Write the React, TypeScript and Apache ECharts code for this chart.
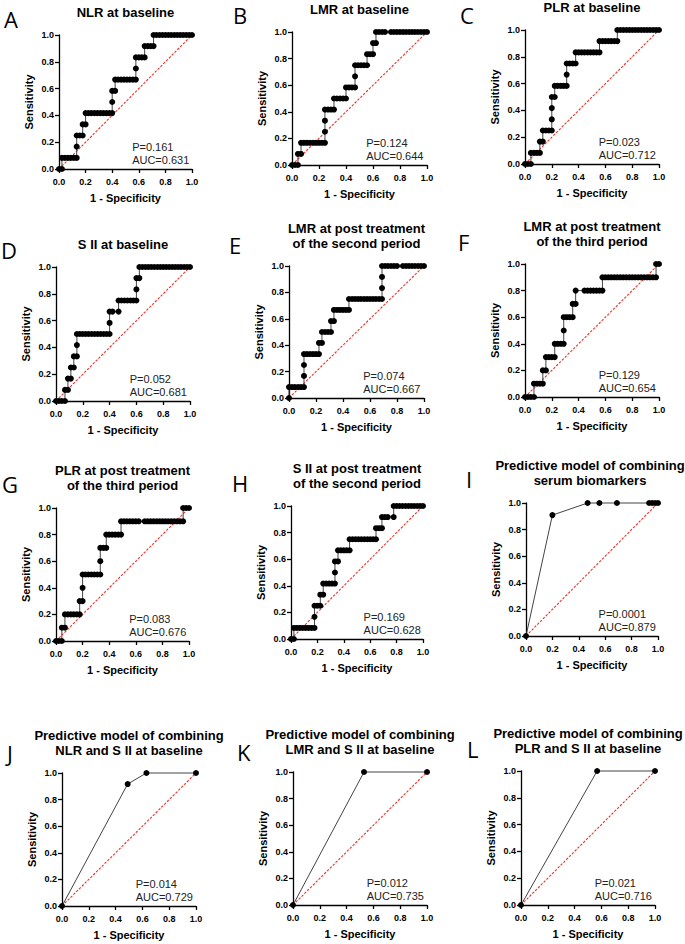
import React, { useEffect, useRef } from "react";
import * as echarts from "echarts";

const panelLetters = ["A", "B", "C", "D", "E", "F", "G", "H", "I", "J", "K", "L"];
const panelTitles = [
  "NLR at baseline",
  "LMR at baseline",
  "PLR at baseline",
  "S II at baseline",
  "LMR at post treatment\nof the second period",
  "LMR at post treatment\nof the third period",
  "PLR at post treatment\nof the third period",
  "S II at post treatment\nof the second period",
  "Predictive model of combining\nserum biomarkers",
  "Predictive model of combining\nNLR and S II at baseline",
  "Predictive model of combining\nLMR and S II at baseline",
  "Predictive model of combining\nPLR and S II at baseline",
];
const pTexts = ["P=0.161", "P=0.124", "P=0.023", "P=0.052", "P=0.074", "P=0.129", "P=0.083", "P=0.169", "P=0.0001", "P=0.014", "P=0.012", "P=0.021"];
const aucTexts = ["AUC=0.631", "AUC=0.644", "AUC=0.712", "AUC=0.681", "AUC=0.667", "AUC=0.654", "AUC=0.676", "AUC=0.628", "AUC=0.879", "AUC=0.729", "AUC=0.735", "AUC=0.716"];
const xTickLabels = ["0.0", "0.2", "0.4", "0.6", "0.8", "1.0"];
const referenceLine = [[0, 0], [1, 1]];

// ROC points [1 - specificity, sensitivity]
const rocA = [
  [0,0],[0.022,0],
  [0.022,0.083],[0.044,0.083],[0.067,0.083],[0.089,0.083],[0.111,0.083],[0.133,0.083],
  [0.133,0.167],[0.133,0.25],[0.156,0.25],[0.178,0.25],
  [0.178,0.333],[0.2,0.333],
  [0.2,0.417],[0.222,0.417],[0.244,0.417],[0.267,0.417],[0.289,0.417],[0.311,0.417],[0.333,0.417],[0.356,0.417],[0.378,0.417],[0.4,0.417],
  [0.4,0.5],[0.4,0.583],[0.422,0.583],
  [0.422,0.667],[0.444,0.667],[0.467,0.667],[0.489,0.667],[0.511,0.667],[0.533,0.667],[0.556,0.667],[0.578,0.667],
  [0.578,0.75],[0.578,0.833],[0.6,0.833],[0.622,0.833],[0.644,0.833],
  [0.644,0.917],[0.667,0.917],[0.689,0.917],[0.711,0.917],
  [0.711,1],[0.733,1],[0.756,1],[0.778,1],[0.8,1],[0.822,1],[0.844,1],[0.867,1],[0.889,1],[0.911,1],[0.933,1],[0.956,1],[0.978,1],[1,1],
];
const rocB = [
  [0,0],[0.022,0],[0.044,0],
  [0.044,0.083],[0.067,0.083],
  [0.067,0.167],[0.089,0.167],[0.111,0.167],[0.133,0.167],[0.156,0.167],[0.178,0.167],[0.2,0.167],[0.222,0.167],[0.244,0.167],
  [0.244,0.25],[0.244,0.333],[0.244,0.417],[0.267,0.417],[0.289,0.417],[0.311,0.417],
  [0.311,0.5],[0.333,0.5],[0.356,0.5],[0.378,0.5],[0.4,0.5],
  [0.4,0.583],[0.422,0.583],[0.444,0.583],[0.467,0.583],
  [0.467,0.667],[0.467,0.75],[0.489,0.75],[0.511,0.75],[0.533,0.75],[0.556,0.75],
  [0.556,0.833],[0.578,0.833],[0.6,0.833],
  [0.6,0.917],[0.622,0.917],
  [0.622,1],[0.644,1],[0.667,1],[0.689,1],[0.733,1],[0.756,1],[0.778,1],[0.8,1],[0.822,1],[0.844,1],[0.867,1],[0.889,1],[0.911,1],[0.933,1],[0.956,1],[0.978,1],[1,1],
];
const rocC = [
  [0,0],[0.022,0],[0.044,0],
  [0.044,0.083],[0.067,0.083],[0.089,0.083],[0.111,0.083],
  [0.111,0.167],[0.133,0.167],
  [0.133,0.25],[0.156,0.25],[0.178,0.25],[0.2,0.25],
  [0.2,0.333],[0.2,0.417],[0.2,0.5],[0.222,0.5],
  [0.222,0.583],[0.244,0.583],[0.267,0.583],[0.289,0.583],[0.311,0.583],
  [0.311,0.667],[0.311,0.75],[0.333,0.75],[0.356,0.75],[0.378,0.75],
  [0.378,0.833],[0.4,0.833],[0.422,0.833],[0.444,0.833],[0.467,0.833],[0.489,0.833],[0.511,0.833],[0.533,0.833],[0.556,0.833],
  [0.556,0.917],[0.578,0.917],[0.6,0.917],[0.622,0.917],[0.644,0.917],[0.667,0.917],[0.689,0.917],
  [0.689,1],[0.711,1],[0.733,1],[0.756,1],[0.778,1],[0.8,1],[0.822,1],[0.844,1],[0.867,1],[0.889,1],[0.911,1],[0.933,1],[0.956,1],[0.978,1],[1,1],
];
const rocD = [
  [0,0],[0.022,0],[0.044,0],[0.067,0],
  [0.067,0.083],[0.089,0.083],
  [0.089,0.167],[0.111,0.167],
  [0.111,0.25],[0.133,0.25],
  [0.133,0.333],[0.156,0.333],
  [0.156,0.417],[0.156,0.5],[0.178,0.5],[0.2,0.5],[0.222,0.5],[0.244,0.5],[0.267,0.5],[0.289,0.5],[0.311,0.5],[0.333,0.5],[0.356,0.5],[0.378,0.5],[0.4,0.5],
  [0.4,0.583],[0.4,0.667],[0.422,0.667],[0.467,0.667],
  [0.467,0.75],[0.489,0.75],[0.511,0.75],[0.533,0.75],[0.556,0.75],[0.578,0.75],[0.6,0.75],
  [0.6,0.833],[0.6,0.917],[0.622,0.917],
  [0.622,1],[0.644,1],[0.667,1],[0.689,1],[0.711,1],[0.733,1],[0.756,1],[0.778,1],[0.8,1],[0.822,1],[0.844,1],[0.867,1],[0.889,1],[0.911,1],[0.933,1],[0.956,1],[0.978,1],[1,1],
];
const rocE = [
  [0,0],
  [0,0.083],[0.022,0.083],[0.044,0.083],[0.067,0.083],[0.089,0.083],[0.111,0.083],
  [0.111,0.167],[0.111,0.25],[0.111,0.333],[0.133,0.333],[0.156,0.333],[0.178,0.333],[0.2,0.333],[0.222,0.333],
  [0.222,0.417],[0.244,0.417],
  [0.244,0.5],[0.267,0.5],[0.289,0.5],[0.311,0.5],
  [0.311,0.583],[0.333,0.583],
  [0.333,0.667],[0.356,0.667],[0.378,0.667],[0.4,0.667],[0.422,0.667],[0.444,0.667],
  [0.444,0.75],[0.467,0.75],[0.489,0.75],[0.511,0.75],[0.533,0.75],[0.556,0.75],[0.578,0.75],[0.6,0.75],[0.622,0.75],[0.644,0.75],[0.667,0.75],[0.689,0.75],
  [0.689,0.833],[0.689,0.917],[0.689,1],[0.711,1],[0.733,1],[0.756,1],[0.778,1],[0.8,1],[0.844,1],[0.867,1],[0.889,1],[0.911,1],[0.933,1],[0.956,1],[0.978,1],[1,1],
];
const rocF = [
  [0,0],[0.022,0],[0.044,0],[0.067,0],
  [0.067,0.1],[0.089,0.1],[0.111,0.1],[0.133,0.1],
  [0.133,0.2],[0.156,0.2],
  [0.156,0.3],[0.178,0.3],[0.2,0.3],[0.222,0.3],
  [0.222,0.4],[0.244,0.4],[0.267,0.4],[0.289,0.4],
  [0.289,0.5],[0.289,0.6],[0.311,0.6],[0.333,0.6],[0.356,0.6],
  [0.356,0.7],[0.378,0.7],
  [0.378,0.8],[0.444,0.8],[0.467,0.8],[0.489,0.8],[0.511,0.8],[0.533,0.8],[0.556,0.8],[0.578,0.8],
  [0.578,0.9],[0.6,0.9],[0.622,0.9],[0.644,0.9],[0.667,0.9],[0.689,0.9],[0.711,0.9],[0.733,0.9],[0.756,0.9],[0.778,0.9],[0.8,0.9],[0.822,0.9],[0.844,0.9],[0.867,0.9],[0.889,0.9],[0.911,0.9],[0.933,0.9],[0.956,0.9],[0.978,0.9],
  [0.978,1],[1,1],
];
const rocG = [
  [0,0],[0.022,0],[0.044,0],
  [0.044,0.1],[0.067,0.1],
  [0.067,0.2],[0.089,0.2],[0.111,0.2],[0.133,0.2],[0.156,0.2],[0.178,0.2],
  [0.178,0.3],[0.2,0.3],
  [0.2,0.4],[0.2,0.5],[0.222,0.5],[0.244,0.5],[0.267,0.5],[0.289,0.5],[0.311,0.5],[0.333,0.5],
  [0.333,0.6],[0.333,0.7],[0.356,0.7],[0.378,0.7],
  [0.378,0.8],[0.4,0.8],[0.422,0.8],[0.444,0.8],[0.467,0.8],[0.489,0.8],
  [0.489,0.9],[0.511,0.9],[0.533,0.9],[0.556,0.9],[0.578,0.9],[0.6,0.9],[0.622,0.9],[0.667,0.9],[0.689,0.9],[0.711,0.9],[0.733,0.9],[0.756,0.9],[0.778,0.9],[0.8,0.9],[0.822,0.9],[0.844,0.9],[0.867,0.9],[0.889,0.9],[0.911,0.9],[0.933,0.9],[0.956,0.9],
  [0.956,1],[0.978,1],[1,1],
];
const rocH = [
  [0,0],[0.022,0],
  [0.022,0.083],[0.044,0.083],[0.067,0.083],[0.089,0.083],[0.111,0.083],[0.133,0.083],[0.156,0.083],[0.178,0.083],
  [0.178,0.167],[0.178,0.25],[0.2,0.25],[0.222,0.25],
  [0.222,0.333],[0.244,0.333],
  [0.244,0.417],[0.267,0.417],[0.289,0.417],[0.311,0.417],[0.333,0.417],
  [0.333,0.5],[0.333,0.583],[0.356,0.583],
  [0.356,0.667],[0.378,0.667],[0.4,0.667],[0.422,0.667],[0.444,0.667],
  [0.444,0.75],[0.467,0.75],[0.489,0.75],[0.511,0.75],[0.533,0.75],[0.556,0.75],[0.578,0.75],[0.6,0.75],[0.622,0.75],[0.644,0.75],
  [0.644,0.833],[0.667,0.833],[0.689,0.833],
  [0.689,0.917],[0.711,0.917],[0.733,0.917],[0.778,0.917],
  [0.778,1],[0.8,1],[0.822,1],[0.844,1],[0.867,1],[0.889,1],[0.911,1],[0.933,1],[0.956,1],[0.978,1],[1,1],
];
const rocI = [[0,0],[0.2,0.909],[0.467,1],[0.556,1],[0.689,1],[0.933,1],[0.956,1],[0.978,1],[1,1]];
const rocJ = [[0,0],[0.49,0.917],[0.63,1],[1,1]];
const rocK = [[0,0],[0.53,1],[1,1]];
const rocL = [[0,0],[0.568,1],[1,1]];
const rocCurves = [rocA, rocB, rocC, rocD, rocE, rocF, rocG, rocH, rocI, rocJ, rocK, rocL];

// plot-area boxes in page pixels: [left, top, width, height]
const boxes = [
  [59, 35, 133, 134], [292, 32, 135, 133], [525, 30, 134, 134],
  [56, 267, 134, 134], [289, 266, 135, 132], [525, 264, 134, 133],
  [56, 508, 133, 133], [291, 506, 132, 133], [526, 503, 132, 133],
  [62, 773, 134, 133], [293, 772, 134, 133], [521, 771, 134, 134],
];
const letterPos = [
  [4, 19], [233, 15], [460, 15], [1, 250], [229, 245], [458, 241.5],
  [2, 483.5], [232, 482.5], [466, 478.5], [7, 752.5], [237, 751.5], [467, 748.5],
];
const titleShift = [0, 0, 0, 0, 0, 0, 0, 0, -2, 0, 0, 0];

const FONT = "'Liberation Sans', Arial, sans-serif";

export default function App() {
  const ref = useRef<HTMLDivElement>(null);
  useEffect(() => {
    if (!ref.current) return;
    const chart = echarts.init(ref.current, undefined, { renderer: "svg" });
    const grid: any[] = [];
    const xAxis: any[] = [];
    const yAxis: any[] = [];
    const series: any[] = [];
    const graphic: any[] = [];
    boxes.forEach((b, i) => {
      const [l, t, w, h] = b;
      grid.push({ left: l, top: t, width: w, height: h, containLabel: false });
      const axisCommon = {
        type: "value",
        gridIndex: i,
        min: 0,
        max: 1,
        interval: 0.2,
        nameLocation: "middle",
        nameTextStyle: { fontFamily: FONT, fontWeight: "bold", fontSize: 11, color: "#000" },
        axisLine: { show: true, onZero: false, lineStyle: { color: "#000", width: 1.3 } },
        axisTick: { show: true, length: 4, lineStyle: { color: "#000", width: 1.3 } },
        axisLabel: {
          fontFamily: FONT, fontWeight: "bold", fontSize: 9, color: "#000",
          formatter: (v: number) => v.toFixed(1),
        },
        splitLine: { show: false },
      };
      xAxis.push({
        ...axisCommon,
        name: "1 - Specificity",
        nameGap: 23,
        axisLabel: { ...axisCommon.axisLabel, margin: 8, formatter: (v: number) => xTickLabels[Math.round(v * 5)] },
      });
      yAxis.push({ ...axisCommon, name: "Sensitivity", nameGap: 25, axisLabel: { ...axisCommon.axisLabel, margin: 5 } });
      series.push({
        type: "line",
        xAxisIndex: i,
        yAxisIndex: i,
        data: referenceLine,
        symbol: "none",
        silent: true,
        clip: false,
        color: "#f0312a",
        lineStyle: { color: "#f0312a", width: 1.1, type: [2.5, 1.5], opacity: 1 },
        z: 2,
      });
      series.push({
        type: "line",
        xAxisIndex: i,
        yAxisIndex: i,
        data: rocCurves[i],
        symbol: "circle",
        symbolSize: 6,
        clip: false,
        itemStyle: { color: "#000" },
        lineStyle: { color: "#444", width: 1 },
        z: 3,
      });
      const lines = panelTitles[i].split("\n");
      lines.forEach((ln, k) => {
        graphic.push({
          type: "text",
          x: l + w / 2 + titleShift[i],
          y: t - 23 - (lines.length - 1 - k) * 15,
          style: { text: ln, fontFamily: FONT, fontWeight: "bold", fontSize: 13, fill: "#000", textAlign: "center", textVerticalAlign: "middle" },
        });
      });
      graphic.push({
        type: "text",
        x: letterPos[i][0],
        y: letterPos[i][1],
        style: { text: panelLetters[i], fontFamily: "'Open Sans', sans-serif", fontSize: 22, lineHeight: 22, fill: "#000", textAlign: "left", textVerticalAlign: "middle" },
      });
      graphic.push({
        type: "text",
        x: l + 0.55 * w,
        y: t + h - 0.165 * h,
        style: { text: pTexts[i], fontFamily: FONT, fontSize: 11, fill: "#222", textAlign: "left", textVerticalAlign: "middle" },
      });
      graphic.push({
        type: "text",
        x: l + 0.55 * w,
        y: t + h - 0.07 * h,
        style: { text: aucTexts[i], fontFamily: FONT, fontSize: 11, fill: "#222", textAlign: "left", textVerticalAlign: "middle" },
      });
    });
    chart.setOption({
      animation: false,
      backgroundColor: "#fff",
      grid,
      xAxis,
      yAxis,
      series,
      graphic,
    });
    return () => chart.dispose();
  }, []);
  return <div ref={ref} style={{ position: "absolute", left: 0, top: 0, width: 685, height: 944 }} />;
}
